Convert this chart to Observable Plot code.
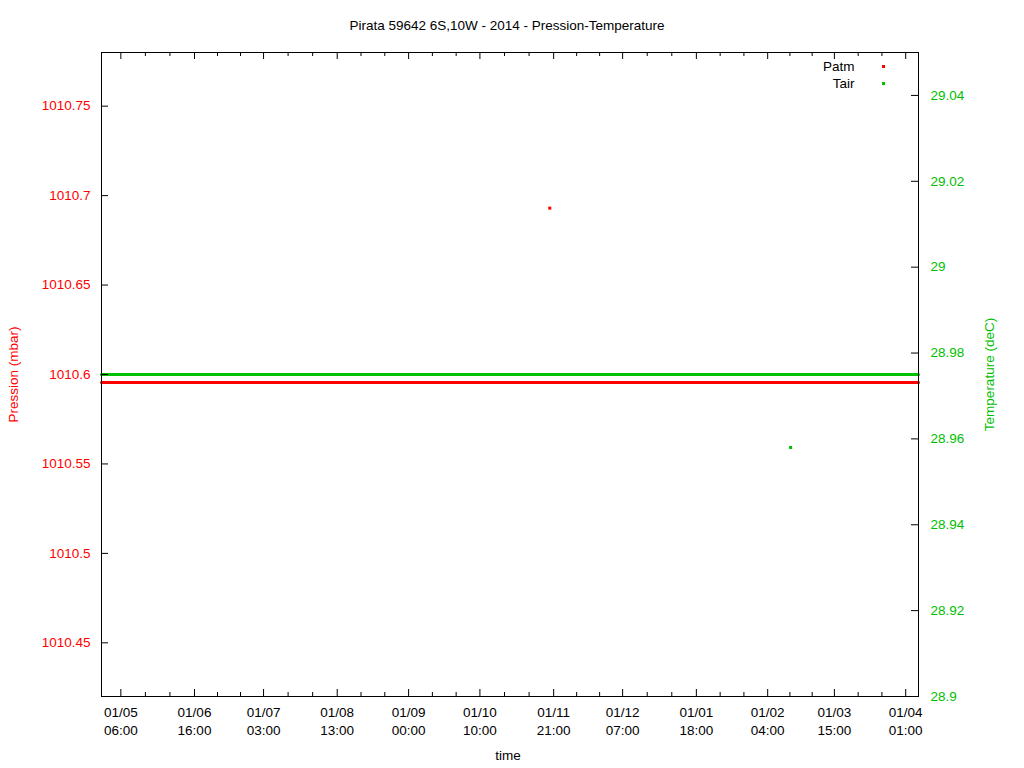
<!DOCTYPE html>
<html><head><meta charset="utf-8">
<script src="https://cdn.jsdelivr.net/npm/d3@7"></script>
<script src="https://cdn.jsdelivr.net/npm/@observablehq/plot@0.6"></script>
<style>body{margin:0;background:#fff} svg{display:block}</style>
</head><body><div id="chart"></div>
<script>
const titleText = "Pirata 59642 6S,10W - 2014 - Pression-Temperature";
const timeDomain = ["2014-04-23T00:00Z", "2015-04-06T12:00Z"];
const xTickDates = ["2014-05-01T06:00Z", "2014-06-01T16:00Z", "2014-07-01T03:00Z", "2014-08-01T13:00Z",
  "2014-09-01T00:00Z", "2014-10-01T10:00Z", "2014-11-01T21:00Z", "2014-12-01T07:00Z",
  "2015-01-01T18:00Z", "2015-02-01T04:00Z", "2015-03-01T15:00Z", "2015-04-01T01:00Z"];
const xTickLabels = ["01/05\n06:00", "01/06\n16:00", "01/07\n03:00", "01/08\n13:00", "01/09\n00:00",
  "01/10\n10:00", "01/11\n21:00", "01/12\n07:00", "01/01\n18:00", "01/02\n04:00", "01/03\n15:00", "01/04\n01:00"];

const patmTimes = ["2014-04-23T00:00Z", "2015-04-06T12:00Z"];
const patmValues = [1010.5955, 1010.5955];
const patmPointTimes = ["2014-10-31T05:00Z"];
const patmPointValues = [1010.693];

const tairTimes = ["2014-04-23T00:00Z", "2015-04-06T12:00Z"];
const tairValues = [28.975, 28.975];
const tairPointTimes = ["2015-02-10T23:00Z"];
const tairPointValues = [28.958];

const pressureDomain = [1010.42, 1010.78];
const pressureTicks = [1010.45, 1010.5, 1010.55, 1010.6, 1010.65, 1010.7, 1010.75];
const temperatureDomain = [28.9, 29.05];
const temperatureTicks = [28.9, 28.92, 28.94, 28.96, 28.98, 29, 29.02, 29.04];

const RED = "#ff0000", GREEN = "#00c000";
const W = 1024, H = 768, ML = 101, MR = 106, MT = 52, MB = 72;
const PW = W - ML - MR, PH = H - MT - MB;

const toDate = s => new Date(s);
const toP = t => pressureDomain[0] + (t - temperatureDomain[0]) / (temperatureDomain[1] - temperatureDomain[0]) * (pressureDomain[1] - pressureDomain[0]);
const toT = p => temperatureDomain[0] + (p - pressureDomain[0]) / (pressureDomain[1] - pressureDomain[0]) * (temperatureDomain[1] - temperatureDomain[0]);

const majorDates = xTickDates.map(toDate);
const labelMap = new Map(majorDates.map((d, i) => [+d, xTickLabels[i]]));
const minorDates = [];
for (let i = 0; i < majorDates.length - 1; i++) {
  const a = +majorDates[i], b = +majorDates[i + 1];
  minorDates.push(new Date(a + (b - a) / 3), new Date(a + 2 * (b - a) / 3));
}

const patm = patmTimes.map((t, i) => ({time: toDate(t), value: patmValues[i]}));
const patmPts = patmPointTimes.map((t, i) => ({time: toDate(t), value: patmPointValues[i]}));
const tair = tairTimes.map((t, i) => ({time: toDate(t), value: toP(tairValues[i])}));
const tairPts = tairPointTimes.map((t, i) => ({time: toDate(t), value: toP(tairPointValues[i])}));
const tTicksMapped = temperatureTicks.map(toP);

const chart = Plot.plot({
  width: W, height: H,
  marginLeft: ML, marginRight: MR, marginTop: MT, marginBottom: MB,
  style: {fontFamily: "'Liberation Sans', Arial, sans-serif", fontSize: "13.5px", background: "#fff", color: "#000"},
  x: {type: "utc", domain: timeDomain.map(toDate)},
  y: {domain: pressureDomain},
  marks: [
    Plot.lineY(tair, {x: "time", y: "value", stroke: GREEN, strokeWidth: 3}),
    Plot.lineY(patm, {x: "time", y: "value", stroke: RED, strokeWidth: 3}),
    Plot.dot(patmPts, {x: "time", y: "value", symbol: "square", r: 1.7, fill: RED}),
    Plot.dot(tairPts, {x: "time", y: "value", symbol: "square", r: 1.7, fill: GREEN}),
    Plot.frame({stroke: "#000"}),
    // inward ticks
    Plot.tickX(majorDates, {x: d => d, insetTop: PH - 7, stroke: "#000"}),
    Plot.tickX(majorDates, {x: d => d, insetBottom: PH - 7, stroke: "#000"}),
    Plot.tickX(minorDates, {x: d => d, insetTop: PH - 4, stroke: "#000"}),
    Plot.tickX(minorDates, {x: d => d, insetBottom: PH - 4, stroke: "#000"}),
    Plot.tickY(pressureTicks, {y: d => d, insetRight: PW - 7, stroke: "#000"}),
    Plot.tickY(tTicksMapped, {y: d => d, insetLeft: PW - 7, stroke: "#000"}),
    // axes labels
    Plot.axisX(majorDates, {anchor: "bottom", tickSize: 0, tickPadding: 8, lineHeight: 1.3,
      tickFormat: d => labelMap.get(+d), label: null, fill: "#000"}),
    Plot.axisY(pressureTicks, {anchor: "left", tickSize: 0, tickPadding: 11,
      tickFormat: d => String(d), label: null, fill: RED}),
    Plot.axisY(tTicksMapped, {anchor: "right", tickSize: 0, tickPadding: 12,
      tickFormat: d => String(+toT(d).toFixed(2)), label: null, fill: GREEN}),
    // titles
    Plot.text([titleText], {frameAnchor: "top", dy: -27, dx: -3, lineAnchor: "middle", fill: "#000"}),
    Plot.text(["time"], {frameAnchor: "bottom", dy: 59, dx: -2, lineAnchor: "middle", fill: "#000"}),
    Plot.text(["Pression (mbar)"], {frameAnchor: "left", dx: -88, rotate: -90, textAnchor: "middle", lineAnchor: "middle", fill: RED}),
    Plot.text(["Temperature (deC)"], {frameAnchor: "right", dx: 71, rotate: -90, textAnchor: "middle", lineAnchor: "middle", fill: GREEN}),
    // legend
    Plot.text(["Patm"], {frameAnchor: "top-right", dx: -64, dy: 14, textAnchor: "end", lineAnchor: "middle", fill: "#000"}),
    Plot.text(["Tair"], {frameAnchor: "top-right", dx: -64, dy: 31, textAnchor: "end", lineAnchor: "middle", fill: "#000"}),
    Plot.dot([0], {frameAnchor: "top-right", dx: -35, dy: 14, symbol: "square", r: 1.7, fill: RED}),
    Plot.dot([0], {frameAnchor: "top-right", dx: -35, dy: 31, symbol: "square", r: 1.7, fill: GREEN})
  ]
});
document.getElementById("chart").appendChild(chart);
</script>
</body></html>
